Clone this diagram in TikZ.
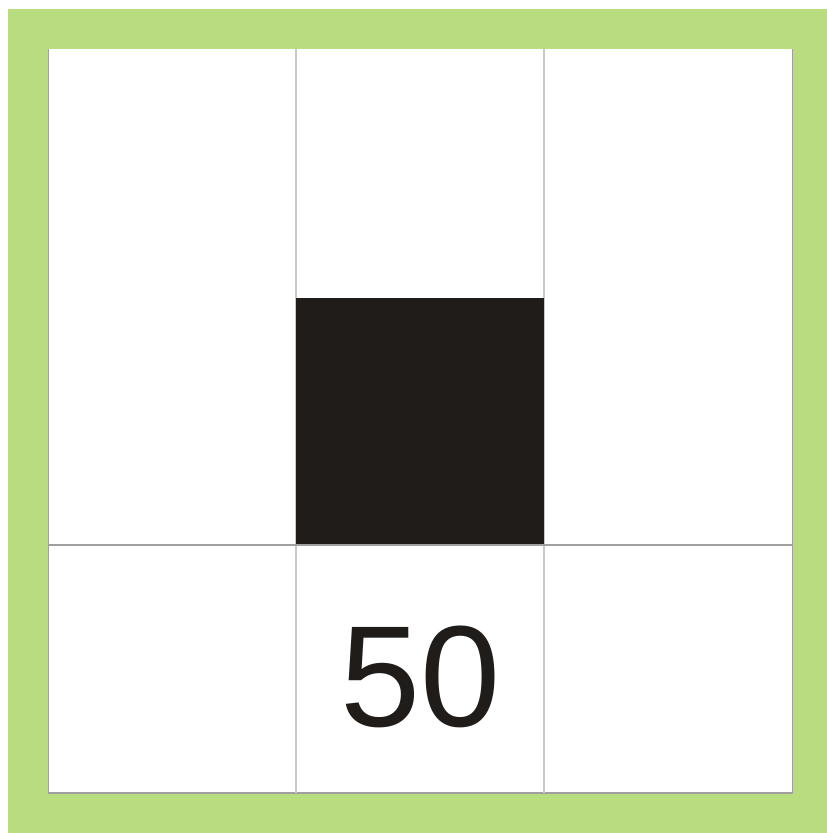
\documentclass[tikz,border=0pt]{standalone}
\usepackage{fontspec}
\setmainfont{Liberation Sans}
\definecolor{frame}{RGB}{185,220,126}
\definecolor{ink}{RGB}{32,28,25}
\definecolor{gridlight}{RGB}{200,200,200}
\definecolor{griddark}{RGB}{160,160,160}
\tikzset{
  gridline/.style={draw=gridlight,line width=1.2pt},
  midline/.style={draw=griddark,line width=1.2pt},
  edgeline/.style={draw=griddark,line width=1.5pt},
}
\begin{document}
\begin{tikzpicture}[x=1pt,y=-1pt]
\useasboundingbox (0,0) rectangle (827,833);
\fill[white] (0,0) rectangle (827,833);
\fill[frame] (8,9) rectangle (827,833);
\fill[white] (48,49) rectangle (793,794);
\draw[edgeline] (48.5,49) -- (48.5,793) -- (792.5,793) -- (792.5,49);
\draw[gridline] (296,49) -- (296,793);
\draw[gridline] (544,49) -- (544,793);
\fill[ink] (296,298) rectangle (544,545);
\draw[midline] (48,545) -- (793,545);
\node[anchor=base,inner sep=0pt,text=ink,font=\fontsize{144}{144}\selectfont] (fifty) at (421,726) {50};
\end{tikzpicture}
\end{document}
